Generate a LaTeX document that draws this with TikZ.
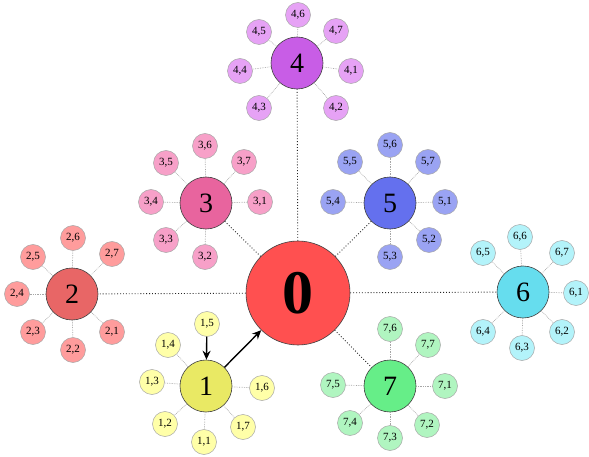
\documentclass[tikz,border=0pt]{standalone}
\usepackage{fontspec}
\setmainfont{Liberation Serif}
\usetikzlibrary{arrows.meta}
% hub and leaf fill colours
\definecolor{root}{HTML}{FF5050}
\definecolor{hub1}{HTML}{E9E964}\definecolor{sat1}{HTML}{FFFFA8}
\definecolor{hub2}{HTML}{E86666}\definecolor{sat2}{HTML}{FF9C9C}
\definecolor{hub3}{HTML}{E8649E}\definecolor{sat3}{HTML}{F7A0C8}
\definecolor{hub4}{HTML}{C85DE6}\definecolor{sat4}{HTML}{E6A2F5}
\definecolor{hub5}{HTML}{6470EE}\definecolor{sat5}{HTML}{9AA3F3}
\definecolor{hub6}{HTML}{66DDEE}\definecolor{sat6}{HTML}{B3F3FA}
\definecolor{hub7}{HTML}{66EE88}\definecolor{sat7}{HTML}{B0F5C0}
\begin{document}
\begin{tikzpicture}[x=1pt,y=-1pt,
  rootnode/.style={circle, draw=black!75, line width=0.6pt, minimum size=104pt,
    inner sep=0pt, fill=root, font=\fontsize{62}{62}\selectfont\bfseries},
  hub/.style={circle, draw=black!75, line width=0.6pt, minimum size=52pt,
    inner sep=0pt, font=\fontsize{28}{28}\selectfont},
  leaf/.style={circle, draw=black!35, line width=0.5pt, minimum size=25pt,
    inner sep=0pt, font=\fontsize{11}{11}\selectfont},
  spoke/.style={draw=black!35, densely dotted, line width=0.7pt},
  trunk/.style={draw=black!85, dotted, line width=0.9pt},
  flow/.style={draw=black, line width=1.4pt, -{Stealth[length=9pt,width=8pt]}}]
\useasboundingbox (0,0) rectangle (589,457);

% central node
\node[rootnode] (h0) at (298,293) {0};

% hubs
\foreach \c/\x/\y in {1/206/386, 2/72/294, 3/206/203, 4/297/63,
                      5/390/203, 6/523/292, 7/390/386}
  \node[hub, fill=hub\c] (h\c) at (\x,\y) {\c};

% leaves around each hub
\foreach \c/\k/\x/\y in {
    1/1/204/442, 1/2/165/424, 1/3/152/382, 1/4/168/345, 1/6/262/388, 1/7/243/427,
    2/1/112/332, 2/2/73/350, 2/3/33/332, 2/4/17/294, 2/5/33/257, 2/6/73/238, 2/7/112/254,
    3/1/260/202, 3/2/205/257, 3/3/166/240, 3/4/151/202, 3/5/166/163, 3/6/205/146, 3/7/244/162,
    4/1/351/71, 4/2/336/108, 4/3/259/108, 4/4/240/71, 4/5/259/32, 4/6/298/15, 4/7/336/31,
    5/1/445/202, 5/2/429/240, 5/3/390/257, 5/4/333/202, 5/5/350/162, 5/6/390/145, 5/7/428/162,
    6/1/576/293, 6/2/562/332, 6/3/522/348, 6/4/483/332, 6/5/483/253, 6/6/520/237, 6/7/562/253,
    7/1/445/386, 7/2/427/425, 7/3/390/438, 7/4/350/423, 7/5/333/385, 7/6/390/329, 7/7/428/345}
{
  \node[leaf, fill=sat\c] (l\c-\k) at (\x,\y) {\c,\k};
  \draw[spoke] (h\c) -- (l\c-\k);
}

% the one leaf that feeds its hub
\node[leaf, fill=sat1] (l1-5) at (207,324) {1,5};
\draw[flow] (l1-5) -- (h1);
\draw[flow] (h1) -- (h0);

% links from the centre to the other hubs
\foreach \c in {2,...,7}
  \draw[trunk] (h0) -- (h\c);
\end{tikzpicture}
\end{document}
